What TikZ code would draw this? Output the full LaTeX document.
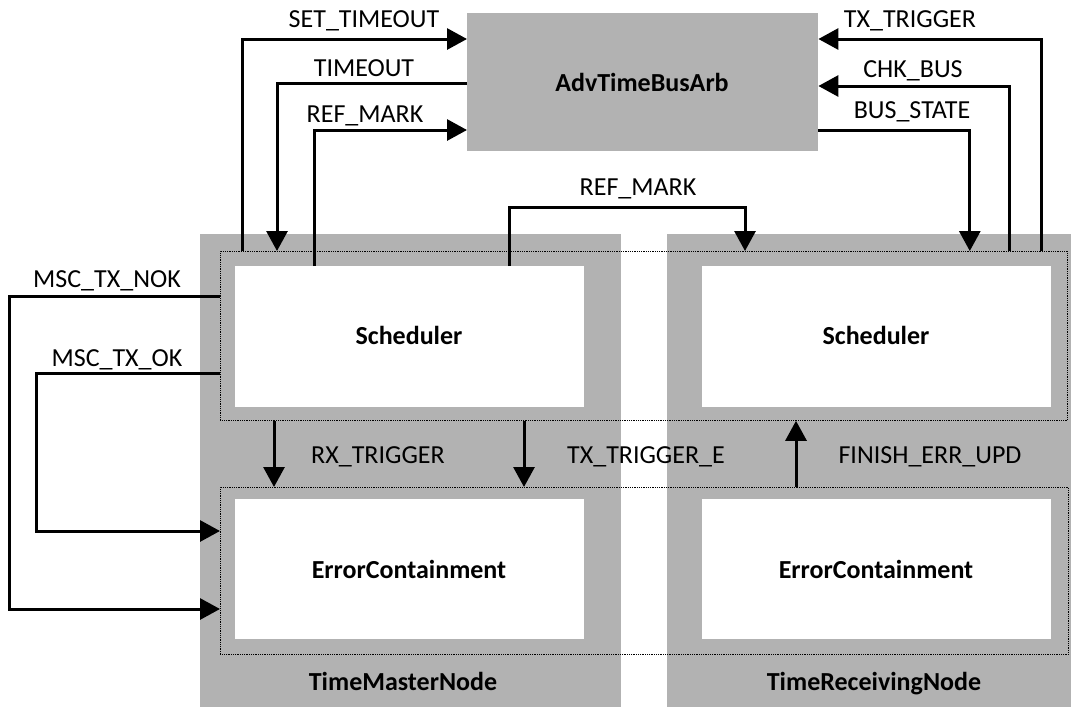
\documentclass[tikz,border=0pt]{standalone}
\usepackage{fontspec}
\setmainfont{Carlito}
\usetikzlibrary{arrows.meta}
\definecolor{boxgray}{RGB}{178,178,178}
\begin{document}
\begin{tikzpicture}[x=1pt,y=-1pt,
 every node/.style={font=\fontsize{26}{31}\selectfont},
 graybox/.style={fill=boxgray, draw=none, inner sep=0pt, anchor=north west},
 whitebox/.style={fill=white, draw=none, inner sep=0pt, anchor=north west, font=\fontsize{26}{31}\selectfont\bfseries},
 dotbox/.style={draw=black, densely dotted, line width=0.8pt, inner sep=0pt, anchor=north west},
 sig/.style={line width=3pt, -{Triangle[length=20pt,width=21pt]}},
 wire/.style={line width=3pt},
 lbl/.style={anchor=base, inner sep=0pt},
 blbl/.style={anchor=base, inner sep=0pt, font=\fontsize{26}{31}\selectfont\bfseries}
]
\useasboundingbox (0,0) rectangle (1071,707);
\fill[white] (0,0) rectangle (1071,707);

% gray containers
\node[graybox, minimum width=421pt, minimum height=473pt] (gM) at (200,234) {};
\node[graybox, minimum width=404pt, minimum height=473pt] (gR) at (667,234) {};
\node[graybox, minimum width=351pt, minimum height=138pt, font=\fontsize{26}{31}\selectfont\bfseries] (arb) at (467,13) {};
\node[blbl] (arbT) at (642,91) {AdvTimeBusArb};

% dotted groups
\node[dotbox, minimum width=847pt, minimum height=169pt] (dT) at (220,251) {};
\node[dotbox, minimum width=848pt, minimum height=167pt] (dB) at (220,487) {};

% white boxes
\node[whitebox, minimum width=349pt, minimum height=141pt] (sL) at (235,266) {};
\node[whitebox, minimum width=349pt, minimum height=140pt] (eL) at (235,499) {};
\node[whitebox, minimum width=349pt, minimum height=141pt] (sR) at (702,266) {};
\node[whitebox, minimum width=349pt, minimum height=140pt] (eR) at (702,499) {};
\node[blbl] (sLT) at (409,344) {Scheduler};
\node[blbl] (eLT) at (409,578) {ErrorContainment};
\node[blbl] (sRT) at (876,344) {Scheduler};
\node[blbl] (eRT) at (876,578) {ErrorContainment};

% container labels
\node[blbl] (tmn) at (403,690) {TimeMasterNode};
\node[blbl] (trn) at (874,690) {TimeReceivingNode};

% connectors to/from arbiter
\draw[sig] ([xshift=22pt]dT.north west) |- ([yshift=-26pt]arb.north west);
\draw[sig] ([yshift=-70pt]arb.north west) -| ([xshift=57pt]dT.north west);
\draw[sig] ([xshift=79pt]sL.north west) |- ([yshift=-117pt]arb.north west);
\draw[sig] ([xshift=-26pt]dT.north east) |- ([yshift=-26pt]arb.north east);
\draw[sig] ([xshift=-58pt]dT.north east) |- ([yshift=-73pt]arb.north east);
\draw[sig] ([yshift=-117pt]arb.north east) -| ([xshift=-98pt]dT.north east);

% REF_MARK between schedulers
\draw[sig] ([xshift=274pt]sL.north west) -- ++(0,-59) -| ([xshift=525pt]dT.north west);

% MSC feedback
\draw[sig] ([yshift=-45pt]dT.north west) -- ++(-211,0) |- ([yshift=-122pt]dB.north west);
\draw[sig] ([yshift=-122pt]dT.north west) -- ++(-184,0) |- ([yshift=-44pt]dB.north west);

% vertical triggers
\draw[sig] ([xshift=54pt]dT.south west) -- ([xshift=54pt]dB.north west);
\draw[sig] ([xshift=304pt]dT.south west) -- ([xshift=304pt]dB.north west);
\draw[sig] ([xshift=576pt]dB.north west) -- ([xshift=576pt]dT.south west);

% signal labels
\node[lbl] (l1) at (364,27) {SET\_TIMEOUT};
\node[lbl] (l2) at (364,76) {TIMEOUT};
\node[lbl] (l3) at (365,122) {REF\_MARK};
\node[lbl] (l4) at (910,27) {TX\_TRIGGER};
\node[lbl] (l5) at (913,77) {CHK\_BUS};
\node[lbl] (l6) at (912,118) {BUS\_STATE};
\node[lbl] (l7) at (638,195) {REF\_MARK};
\node[lbl] (l8) at (107,287) {MSC\_TX\_NOK};
\node[lbl] (l9) at (117,366) {MSC\_TX\_OK};
\node[lbl] (l10) at (378,463) {RX\_TRIGGER};
\node[lbl] (l11) at (646,463) {TX\_TRIGGER\_E};
\node[lbl] (l12) at (930,463) {FINISH\_ERR\_UPD};
\end{tikzpicture}
\end{document}
